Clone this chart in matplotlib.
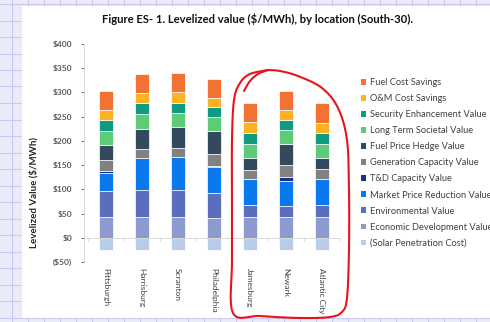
import numpy as np
import matplotlib
matplotlib.use("Agg")
import matplotlib.pyplot as plt
from matplotlib.patches import Rectangle, Patch
from matplotlib.lines import Line2D

plt.rcParams['font.family'] = ['Lato', 'DejaVu Sans']

# ---------------- data ----------------
locations = ["Pittsburgh", "Harrisburg", "Scranton", "Philadelphia",
             "Jamesburg", "Newark", "Atlantic City"]
solar_penetration_cost = [-26, -26, -26, -26, -26, -26, -26]
economic_development = [43, 43, 43, 40, 43, 42, 43]
environmental = [53, 55, 55, 53, 24, 24, 24]
market_price_reduction = [37, 66, 68, 53, 54, 52, 54]
td_capacity = [5, 1, 1, 2, 0, 7, 0]
generation_capacity = [22, 19, 19, 25, 19, 25, 20]
fuel_price_hedge = [31, 41, 42, 47, 24, 44, 24]
long_term_societal = [29, 30, 30, 29, 29, 29, 29]
security_enhancement = [23, 23, 21, 20, 23, 20, 22]
om_cost_savings = [21, 20, 21, 20, 22, 21, 21]
fuel_cost_savings = [40, 40, 41, 38, 41, 38, 41]

series_names = ["(Solar Penetration Cost)", "Economic Development Value",
                "Environmental Value", "Market Price Reduction Value",
                "T&D Capacity Value", "Generation Capacity Value",
                "Fuel Price Hedge Value", "Long Term Societal Value",
                "Security Enhancement Value", "O&M Cost Savings",
                "Fuel Cost Savings"]
series_values = [solar_penetration_cost, economic_development, environmental,
                 market_price_reduction, td_capacity, generation_capacity,
                 fuel_price_hedge, long_term_societal, security_enhancement,
                 om_cost_savings, fuel_cost_savings]
series_colors = ["#B9CDE9", "#8D9ACF", "#5B6EBE", "#0B79EE", "#1B2F8A",
                 "#818181", "#33495E", "#5ECB79", "#0F9A82", "#FDB223",
                 "#F17233"]
ytick_values = [-50, 0, 50, 100, 150, 200, 250, 300, 350, 400]
ytick_labels = ["($50)", "$0", "$50", "$100", "$150", "$200", "$250",
                "$300", "$350", "$400"]

W, H = 490, 322
fig = plt.figure(figsize=(W / 100, H / 100), dpi=100)

def fx(x):
    return x / W

def fy(y):
    return 1 - y / H

# spreadsheet-like background
fig.patch.set_facecolor("#EAEAF8")
for gx in np.arange(-4, W, 16):
    fig.add_artist(Line2D([fx(gx), fx(gx)], [0, 1], color="#C9C9EE", lw=0.8, zorder=-3))
for gy in np.arange(4, H, 16.5):
    fig.add_artist(Line2D([0, 1], [fy(gy), fy(gy)], color="#C9C9EE", lw=0.8, zorder=-3))
fig.add_artist(Rectangle((fx(22), fy(318)), 1 - fx(22), fy(6) - fy(318),
                         transform=fig.transFigure, facecolor="white",
                         edgecolor="none", zorder=-2))

ax = fig.add_axes([fx(84), fy(262), fx(340) - fx(84), fy(44) - fy(262)])
ax.set_zorder(1)
ax.set_facecolor("none")
x = np.arange(len(locations))
pos_bottom = np.zeros(len(locations))
for name, vals, col in zip(series_names, series_values, series_colors):
    v = np.array(vals, dtype=float)
    if name.startswith("("):
        ax.bar(x, v, 0.39, bottom=0, color=col, edgecolor="white", linewidth=0.5, label=name, zorder=2)
    else:
        ax.bar(x, v, 0.39, bottom=pos_bottom, color=col, edgecolor="white", linewidth=0.5, label=name, zorder=2)
        pos_bottom += v

ax.set_xlim(-0.6, 6.5)
ax.set_ylim(-50, 400)
ax.set_yticks(ytick_values)
ax.set_yticklabels(ytick_labels)
ax.tick_params(axis="y", labelsize=6, colors="#595959", length=2.5, width=0.6, pad=6)
for lab in ax.get_yticklabels():
    lab.set_fontweight("bold")
for s in ["top", "right"]:
    ax.spines[s].set_visible(False)
ax.spines["left"].set_color("#D9D9D9")
ax.spines["left"].set_linewidth(0.7)
ax.spines["bottom"].set_position(("data", 0))
ax.spines["bottom"].set_color("#D9D9D9")
ax.spines["bottom"].set_linewidth(0.7)
ax.set_xticks(x)
ax.set_xticklabels(locations, rotation=270, fontsize=6, color="#404040")
ax.tick_params(axis="x", length=0, pad=22)
ax.set_xticks(np.arange(-0.5, 6.6, 1), minor=True)
ax.tick_params(axis="x", which="minor", length=3, color="#D9D9D9", width=0.6)

fig.text(fx(34), fy(193), "Levelized Value ($/MWh)", rotation=90, ha="center",
         va="center", fontsize=7, fontweight="bold", color="#262626")
fig.text(fx(258), fy(19), "Figure ES- 1. Levelized value ($/MWh), by location (South-30).",
         ha="center", va="center", fontsize=8.1, fontweight="bold", color="#111111")

handles = [Patch(facecolor=c, edgecolor="none") for c in series_colors[::-1]]
fig.legend(handles, series_names[::-1], loc="upper left",
           bbox_to_anchor=(fx(361), fy(78)), frameon=False, fontsize=6.7,
           handlelength=0.55, handleheight=0.55, handletextpad=0.45,
           labelspacing=0.76, borderaxespad=0, borderpad=0, labelcolor="#404040")

# red hand-drawn annotation loop
def smooth(pts, n=20):
    pts = np.array(pts, dtype=float)
    out = []
    P = np.vstack([pts[0], pts, pts[-1]])
    for i in range(1, len(P) - 2):
        p0, p1, p2, p3 = P[i - 1], P[i], P[i + 1], P[i + 2]
        for t in np.linspace(0, 1, n, endpoint=False):
            t2, t3 = t * t, t * t * t
            out.append(0.5 * ((2 * p1) + (-p0 + p2) * t + (2 * p0 - 5 * p1 + 4 * p2 - p3) * t2
                              + (-p0 + 3 * p1 - 3 * p2 + p3) * t3))
    out.append(P[-2])
    return np.array(out)

loop = smooth([(268, 70), (250, 74), (240, 83), (234, 100), (232, 140), (232, 200),
               (232, 260), (233, 313), (260, 316), (300, 318), (330, 317), (342, 312),
               (347, 298), (349, 250), (349, 190), (347, 140), (338, 108), (322, 88),
               (298, 76), (280, 71), (268, 70)])
hook = smooth([(244, 91), (250, 81), (258, 74), (268, 70)])
for path in (loop, hook):
    fig.add_artist(Line2D(fx(path[:, 0]), fy(path[:, 1]), color="#E8141C", lw=1.5,
                          solid_capstyle="round", zorder=10))

fig.savefig("out.png", dpi=100, facecolor=fig.get_facecolor())
